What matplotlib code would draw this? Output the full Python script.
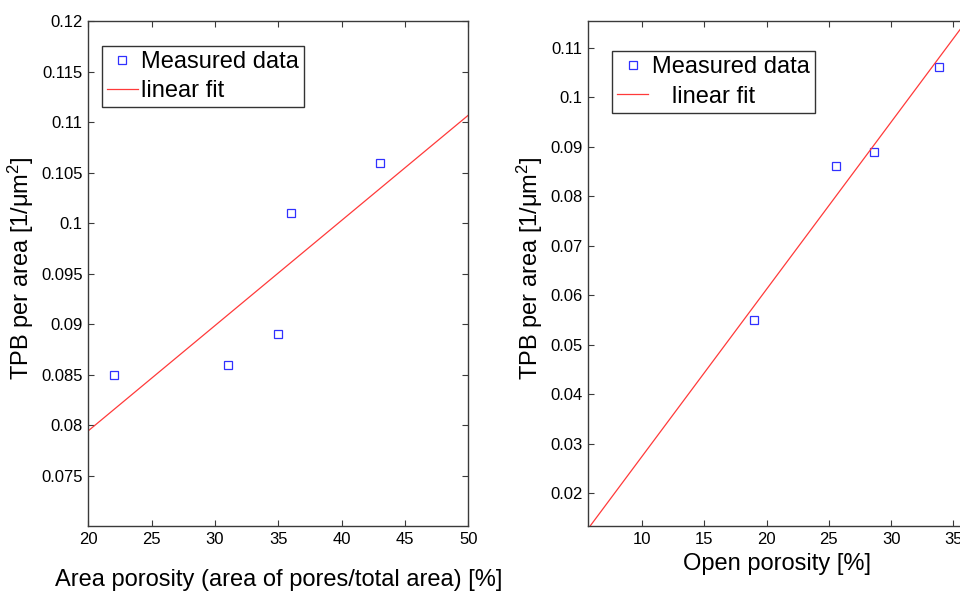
import numpy as np
import matplotlib.pyplot as plt

plt.rcParams['font.family'] = ['Liberation Sans', 'DejaVu Sans']
plt.rcParams['mathtext.fontset'] = 'custom'
plt.rcParams['mathtext.rm'] = 'Liberation Sans'
plt.rcParams['mathtext.it'] = 'Liberation Sans:italic'

# area porosity vs TPB density
area_porosity = [22, 31, 35, 36, 43]
tpb_area = [0.085, 0.086, 0.089, 0.101, 0.106]

# open porosity vs TPB density
open_porosity = [19, 25.6, 28.6, 33.8]
tpb_open = [0.055, 0.086, 0.089, 0.106]

left_xticks = [20, 25, 30, 35, 40, 45, 50]
left_yticks = [0.075, 0.08, 0.085, 0.09, 0.095, 0.1, 0.105, 0.11, 0.115, 0.12]
left_yticklabels = ['0.075', '0.08', '0.085', '0.09', '0.095', '0.1', '0.105', '0.11', '0.115', '0.12']
right_xticks = [10, 15, 20, 25, 30, 35]
right_yticks = [0.02, 0.03, 0.04, 0.05, 0.06, 0.07, 0.08, 0.09, 0.1, 0.11]
right_yticklabels = ['0.02', '0.03', '0.04', '0.05', '0.06', '0.07', '0.08', '0.09', '0.1', '0.11']

ylabel = 'TPB per area [1/μm$^2$]'
spine_color = '#3a3a3a'


def style_axes(ax):
    for s in ax.spines.values():
        s.set_color(spine_color)
        s.set_linewidth(1.0)
    ax.tick_params(direction='in', length=4, width=0.8, color=spine_color,
                   top=True, right=True, labelsize=12, labelcolor='black', pad=4)


def draw_panel(ax, x, y, xlim, label_fit):
    slope, icpt = np.polyfit(x, y, 1)
    xs = np.array(xlim)
    ax.plot(x, y, 's', ms=6, mfc='none', mec='#3030ff', mew=0.9, label='Measured data')
    ax.plot(xs, slope * xs + icpt, '-', color='#ff3a3a', lw=0.9, label=label_fit)
    ax.set_xlim(xlim)


def add_legend(ax, anchor):
    ax.legend(loc='upper left', bbox_to_anchor=anchor, bbox_transform=fig.transFigure,
              fontsize=17, frameon=True, fancybox=False, edgecolor='#333333', framealpha=1,
              borderaxespad=0, borderpad=0.22, handlelength=1.3, handletextpad=0.15,
              labelspacing=0.3, numpoints=1)


fig = plt.figure(figsize=(9.6, 5.93), dpi=100)

ax1 = fig.add_axes([0.092, 0.113, 0.3958, 0.851])
draw_panel(ax1, area_porosity, tpb_area, (20, 50), 'linear fit')
ax1.set_ylim(0.07, 0.12)
ax1.set_xticks(left_xticks)
ax1.set_yticks(left_yticks)
ax1.set_yticklabels(left_yticklabels)
style_axes(ax1)
ax1.set_xlabel('Area porosity (area of pores/total area) [%]', fontsize=17)
ax1.xaxis.set_label_coords(0.5, -0.085)
ax1.set_ylabel(ylabel, fontsize=17)
ax1.yaxis.set_label_coords(-0.1376, 0.51)
add_legend(ax1, (0.1059, 0.9225))

ax2 = fig.add_axes([0.6128, 0.113, 0.3934, 0.851])
draw_panel(ax2, open_porosity, tpb_open, (5.69, 36.0), '   linear fit')
ax2.set_ylim(0.01337, 0.1153)
ax2.set_xticks(right_xticks)
ax2.set_yticks(right_yticks)
ax2.set_yticklabels(right_yticklabels)
style_axes(ax2)
ax2.set_xlabel('Open porosity [%]', fontsize=17)
ax2.xaxis.set_label_coords(0.5, -0.054)
ax2.set_ylabel(ylabel, fontsize=17)
ax2.yaxis.set_label_coords(-0.1146, 0.51)
add_legend(ax2, (0.6378, 0.9135))

fig.savefig('out.png', dpi=100)
